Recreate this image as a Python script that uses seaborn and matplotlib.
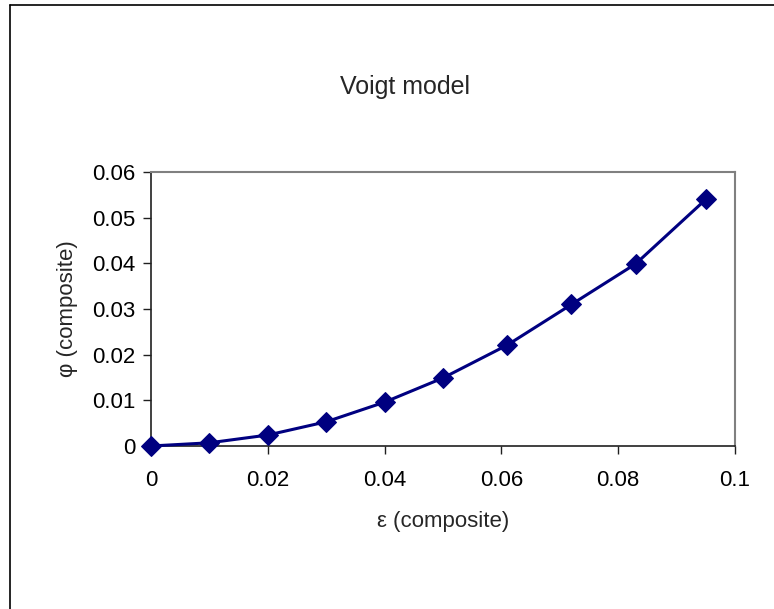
import matplotlib
matplotlib.use("Agg")
import matplotlib.pyplot as plt
import seaborn as sns
import pandas as pd
from matplotlib.lines import Line2D

strain = [0.0, 0.01, 0.02, 0.03, 0.04, 0.05, 0.061, 0.072, 0.083, 0.095]
phi = [0.0, 0.0007, 0.0024, 0.0053, 0.0096, 0.0149, 0.0221, 0.031, 0.0399, 0.054]
x_ticks = [0, 0.02, 0.04, 0.06, 0.08, 0.1]
x_tick_labels = ["0", "0.02", "0.04", "0.06", "0.08", "0.1"]
y_ticks = [0, 0.01, 0.02, 0.03, 0.04, 0.05, 0.06]
y_tick_labels = ["0", "0.01", "0.02", "0.03", "0.04", "0.05", "0.06"]
title = "Voigt model"
x_label = "ε (composite)"
y_label = "φ (composite)"

sns.set_style("white")
plt.rcParams["font.family"] = ["Liberation Sans", "DejaVu Sans"]

W, H = 774, 609
fig = plt.figure(figsize=(W / 100, H / 100), dpi=100)
ax = fig.add_axes([151 / W, (H - 446) / H, (735 - 151) / W, (446 - 172) / H])

df = pd.DataFrame({"strain": strain, "phi": phi})
sns.lineplot(data=df, x="strain", y="phi", ax=ax, color="#000080", linewidth=2.2,
             marker="D", markersize=10, markeredgecolor="#000080", markerfacecolor="#000080",
             clip_on=False, zorder=5)

ax.set_xlim(0, 0.1)
ax.set_ylim(0, 0.06)
ax.set_xticks(x_ticks)
ax.set_xticklabels(x_tick_labels)
ax.set_yticks(y_ticks)
ax.set_yticklabels(y_tick_labels)
ax.tick_params(axis="both", which="major", direction="out", length=5.5, width=1,
               color="#202020", labelsize=16, labelcolor="black",
               bottom=True, left=True)
ax.tick_params(axis="x", pad=12)
ax.tick_params(axis="y", pad=6)

for side in ["top", "right"]:
    ax.spines[side].set_color("#808080")
    ax.spines[side].set_linewidth(1.5)
for side in ["left", "bottom"]:
    ax.spines[side].set_color("#202020")
    ax.spines[side].set_linewidth(1.2)

ax.set_xlabel("")
ax.set_ylabel("")
fig.text(443 / W, 1 - 521 / H, x_label, ha="center", va="center", fontsize=16)
fig.text(67 / W, 1 - 309 / H, y_label, ha="center", va="center", fontsize=16, rotation=90)
fig.text(405 / W, 1 - 87 / H, title, ha="center", va="center", fontsize=18)

# outer chart border (left and top edges visible)
fig.add_artist(Line2D([9.5 / W, 9.5 / W], [0, 1 - 5 / H], transform=fig.transFigure,
                      color="black", linewidth=1.2))
fig.add_artist(Line2D([9.5 / W, 1], [1 - 5 / H, 1 - 5 / H], transform=fig.transFigure,
                      color="black", linewidth=1.2))

fig.savefig("out.png", dpi=100, facecolor="white")
